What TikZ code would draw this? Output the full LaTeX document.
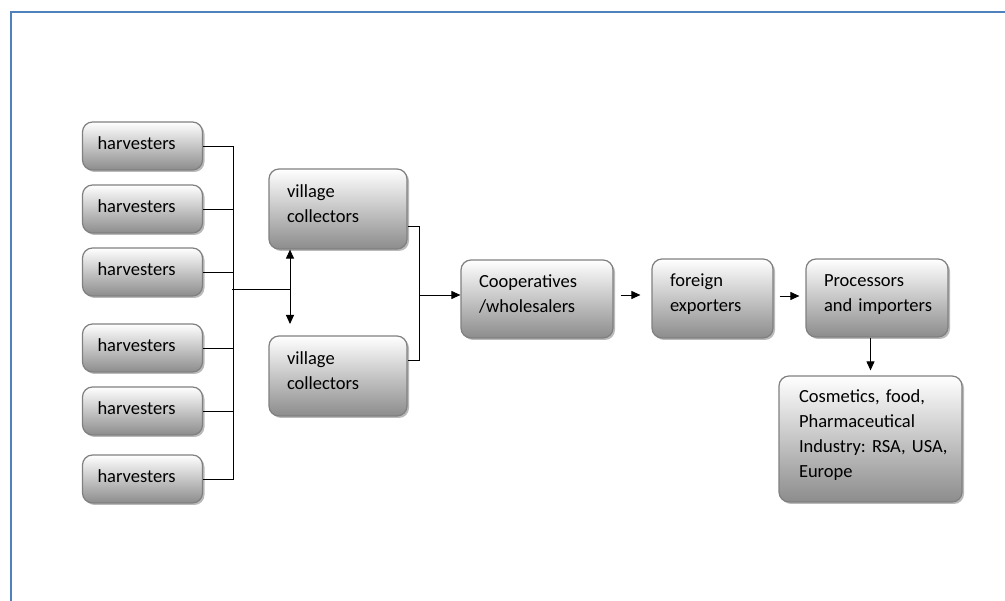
\documentclass[tikz,border=0pt]{standalone}
\usepackage{fontspec}
\setmainfont{Carlito}
\usetikzlibrary{arrows.meta,shadows}

\begin{document}
\begin{tikzpicture}[x=1pt,y=-1pt,
    box/.style={draw=black!50, line width=1.2pt, rounded corners=10pt,
        top color=white, bottom color=black!45,
        drop shadow={shadow xshift=2pt, shadow yshift=-2pt, fill=black!45, opacity=0.6},
        align=left, inner xsep=18pt, inner ysep=0pt,
        text height=20pt, text depth=#1,
        font=\fontsize{18.5}{25}\selectfont\frenchspacing, text=black},
    box/.default=43pt,
    harv/.style={box=13pt, inner xsep=15pt, text width=90, minimum height=48},
    arr/.style={-{Triangle[length=9pt,width=8pt]}, line width=0.9pt},
    link/.style={line width=0.9pt}]
    \useasboundingbox (0,0) rectangle (1005,601);
    \draw[color={rgb,255:red,79;green,129;blue,189}, line width=2pt] (1005,12) -- (11,12) -- (11,601);

    \node[harv] (h1) at (142.5,146) {harvesters};
    \node[harv] (h2) at (142.5,209) {harvesters};
    \node[harv] (h3) at (142.5,272) {harvesters};
    \node[harv] (h4) at (142.5,348) {harvesters};
    \node[harv] (h5) at (142.5,411) {harvesters};
    \node[harv] (h6) at (142.5,479) {harvesters};

    \node[box=42pt, text width=102, minimum height=80] (vc1) at (338,209) {village\\collectors};
    \node[box=42pt, text width=102, minimum height=80] (vc2) at (338,376) {village\\collectors};
    \node[box=43.4pt, text width=116, minimum height=78] (coop) at (537,299) {Cooperatives\\/wholesalers};
    \node[box=43pt, text width=85, minimum height=79] (exp) at (712.5,298.5) {foreign\\exporters};
    \node[box=42pt, text width=106, minimum height=78] (proc) at (877,298) {Processors\\\mbox{and importers}};
    \node[box=92pt, inner xsep=20pt, text width=143, minimum height=126] (ind) at (870.5,439) {Cosmetics, food,\\Pharmaceutical\\\mbox{Industry: RSA, USA,}\\Europe};

    \coordinate (feed) at (232,289);
    \coordinate (split) at (290,289);
    \coordinate (down) at (290,324);
    \coordinate (merge) at (419,295);

    % harvesters to the collectors
    \draw[link] (h1.east) -- ++(30,0) |- (h6.east);
    \foreach \i in {2,...,5}
        \draw[link] (h\i.east) -- ++(30,0);
    \draw[link] (feed) -- (split);
    \draw[arr, {Triangle[length=9pt,width=8pt]}-{Triangle[length=9pt,width=8pt]}] (split |- vc1.south) -- (down);

    % collectors to the exporters
    \draw[link] ([yshift=-17pt]vc1.east) -- ++(12,0) |- ([yshift=16pt]vc2.east);
    \draw[arr] (merge) -- (coop.west |- merge);
    \draw[arr] ([xshift=7pt,yshift=4pt]coop.east) -- ([xshift=-11pt,yshift=3.5pt]exp.west);
    \draw[arr] ([xshift=6pt,yshift=2.5pt]exp.east) -- ([xshift=-6pt,yshift=2pt]proc.west);
    \draw[arr] (ind.north |- proc.south) -- ([yshift=5pt]ind.north);
\end{tikzpicture}
\end{document}
